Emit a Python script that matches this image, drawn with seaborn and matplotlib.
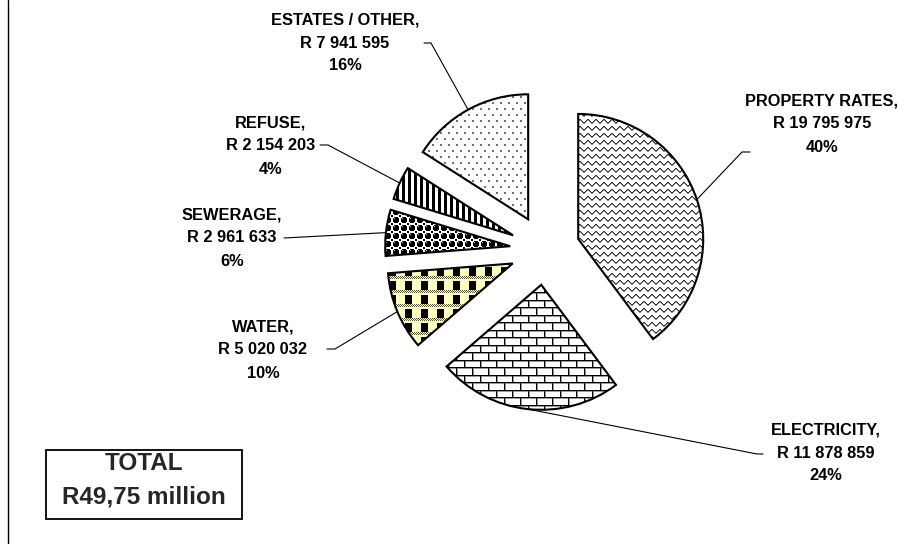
import numpy as np
import matplotlib
matplotlib.use("Agg")
import matplotlib.pyplot as plt
import seaborn as sns
from matplotlib.patches import Rectangle

# ---------------- data ----------------
categories = ["PROPERTY RATES", "ELECTRICITY", "WATER", "SEWERAGE", "REFUSE", "ESTATES / OTHER"]
amounts = [19795975, 11878859, 5020032, 2961633, 2154203, 7941595]
amount_labels = ["R 19 795 975", "R 11 878 859", "R 5 020 032", "R 2 961 633", "R 2 154 203", "R 7 941 595"]
pct_labels = ["40%", "24%", "10%", "6%", "4%", "16%"]
total_title = "TOTAL"
total_label = "R49,75 million"

# ---------------- style ----------------
sns.set_theme(style="white")
plt.rcParams["font.family"] = ["Liberation Sans", "DejaVu Sans"]

W, H = 913, 544
fig = plt.figure(figsize=(W / 100, H / 100), dpi=100)
ax = fig.add_axes([0, 0, 1, 1])


def Y(p):
    return H - p


CX, CY, R, EXP = 545, Y(250), 125, 35

wedges, _ = ax.pie(amounts, startangle=90, counterclock=False, center=(CX, CY),
                   radius=R, explode=[EXP] * len(amounts), frame=True,
                   wedgeprops=dict(facecolor="none", edgecolor="black",
                                   linewidth=1.5, zorder=3))


# ---------------- textures (pixel tiles) ----------------
def blank(h, w, c=(1, 1, 1)):
    t = np.ones((h, w, 3))
    t[:, :] = c
    return t


def tex_wave():
    t = blank(7, 8)
    ys = [3, 2, 1, 0, 0, 1, 2, 3]
    for x, y in enumerate(ys):
        t[y, x] = 0.2
        t[(y + 1) % 7, x] = 0.55
    return t


def tex_brick():
    t = blank(15, 16)
    t[0, :] = 0.0
    t[1, :] = 0.6
    t[0:7, 0] = 0.0
    t[1:7, 1] = 0.6
    t[7, :] = 0.0
    t[8, :] = 0.6
    t[7:15, 8] = 0.0
    t[8:15, 9] = 0.6
    return t


def tex_water():
    yel = (1.0, 1.0, 0.76)
    t = blank(14, 16, yel)
    t[1:10, 5:12] = 0.0
    for y in range(10, 13):
        for x in range(16):
            if (x + y) % 2 == 0:
                t[y, x] = (0.35, 0.35, 0.22)
    return t


def tex_sewer():
    t = blank(8, 8)
    yy, xx = np.mgrid[0:8, 0:8]
    d = np.hypot(yy - 3.5, xx - 3.5)
    t[d < 3.3] = 0.0
    t[2, 2] = 0.85
    t[0, 0] = 0.0
    t[7, 7] = 0.0
    t[0, 7] = 0.0
    t[7, 0] = 0.0
    return t


def tex_stripes():
    t = blank(6, 6)
    t[:, 0:3] = 0.0
    return t


def tex_dots():
    t = blank(12, 8)
    t[0:2, 0:2] = 0.45
    t[6:8, 4:6] = 0.45
    return t


textures = [tex_wave(), tex_brick(), tex_water(), tex_sewer(), tex_stripes(), tex_dots()]

for w, tile in zip(wedges, textures):
    th, tw = tile.shape[:2]
    img = np.tile(tile, (H // th + 2, W // tw + 2, 1))[:H, :W]
    im = ax.imshow(img, extent=(0, W, 0, H), origin="upper",
                   interpolation="nearest", zorder=1)
    im.set_clip_path(w)

# ---------------- labels & leader lines ----------------
label_centers = [(822, 124), (826, 453), (263, 350), (232, 238), (271, 146), (345, 43)]
leader_points = [
    [(750, 152), (742, 152)],
    [(763, 454), (757, 454)],
    [(327, 349), (335, 349)],
    [(284, 238)],
    [(320, 145), (328, 145)],
    [(424, 43), (431, 43)],
]
LS = 23
for w, name, amt, pct, (lx, ly), pts in zip(wedges, categories, amount_labels,
                                            pct_labels, label_centers, leader_points):
    for k, s in enumerate([name + ",", amt, pct]):
        ax.text(lx, Y(ly + (k - 1) * LS), s, ha="center", va="center",
                fontsize=11.8, fontweight="bold", color="black", zorder=5)
    mid = np.deg2rad((w.theta1 + w.theta2) / 2)
    ax_, ay_ = w.center[0] + w.r * np.cos(mid), w.center[1] + w.r * np.sin(mid)
    xs = [p[0] for p in pts] + [ax_]
    ys = [Y(p[1]) for p in pts] + [ay_]
    ax.plot(xs, ys, color="black", lw=0.8, zorder=4)

# ---------------- total box ----------------
ax.add_patch(Rectangle((46, Y(519)), 196, 69, fill=False, edgecolor="black",
                       linewidth=1.3, zorder=5))
ax.text(144, Y(464), total_title, ha="center", va="center", fontsize=17.5,
        fontweight="bold", zorder=6)
ax.text(144, Y(497), total_label, ha="center", va="center", fontsize=17.5,
        fontweight="bold", zorder=6)

# left border line
ax.plot([8, 8], [0, H], color="black", lw=1.0, zorder=5)

ax.set_xlim(0, W)
ax.set_ylim(0, H)
ax.axis("off")

fig.savefig("out.png", dpi=100)
